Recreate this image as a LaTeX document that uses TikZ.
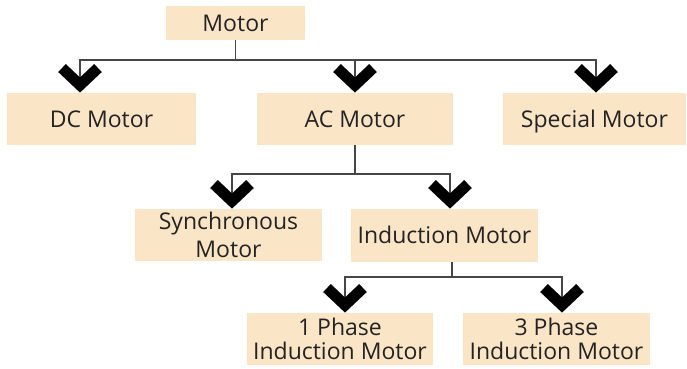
\documentclass[tikz,border=0pt]{standalone}
\usepackage{fontspec}
\setmainfont{Open Sans}
\usetikzlibrary{arrows.meta}

\definecolor{boxfill}{RGB}{251,229,199}
\definecolor{textgray}{RGB}{35,35,35}
\definecolor{linegray}{RGB}{70,70,70}

\tikzset{
  box/.style={fill=boxfill, text=textgray, align=center, inner sep=1pt,
    font=\fontsize{11.5}{12}\selectfont},
  oneline/.style={text height=10.5pt, text depth=2.3pt},
  link/.style={draw=linegray, line width=0.85pt},
  chev/.style={link, -{Straight Barb[sharp, length=8.5pt, width=18pt, line width=5.5pt, color=black]}},
}

\begin{document}
\begin{tikzpicture}[x=0.5pt,y=-0.5pt]
\useasboundingbox (0,0) rectangle (687,369);

% Boxes
\node[box, oneline, minimum width=69.5pt, minimum height=17pt] (motor) at (235.5,23) {Motor};
\node[box, oneline, minimum width=94.5pt, minimum height=26pt] (dc) at (101.5,119) {DC Motor};
\node[box, oneline, minimum width=98pt, minimum height=26pt] (ac) at (355,119) {AC Motor};
\node[box, oneline, minimum width=91.5pt, minimum height=26pt] (special) at (594.5,119) {Special Motor};
\node[box, minimum width=93.5pt, minimum height=26pt] (sync) at (228.5,235) {Synchronous\\[2pt]Motor};
\node[box, oneline, minimum width=93.5pt, minimum height=26.5pt] (induction) at (444.5,235.5) {Induction Motor};
\node[box, minimum width=93pt, minimum height=26pt] (one) at (340,339) {1 Phase\\Induction Motor};
\node[box, minimum width=93.5pt, minimum height=26pt] (three) at (556.5,339) {3 Phase\\Induction Motor};

% Level 1
\coordinate (top bus) at (235.5,60);
\draw[link] (motor.south) -- (top bus);
\draw[chev] (top bus) -| (80,0 |- dc.north);
\draw[chev] (top bus) -| (355,0 |- ac.north);
\draw[chev] (top bus) -| (596,0 |- special.north);

% Level 2
\coordinate (ac bus) at (355,174);
\draw[link] (ac.south) -- (ac bus);
\draw[chev] (ac bus) -| (232,0 |- sync.north);
\draw[chev] (ac bus) -| (450,0 |- induction.north);

% Level 3
\coordinate (ind bus) at (452,277);
\draw[link] (ind bus |- induction.south) -- (ind bus);
\draw[chev] (ind bus) -| (345,0 |- one.north);
\draw[chev] (ind bus) -| (562,0 |- three.north);
\end{tikzpicture}
\end{document}
